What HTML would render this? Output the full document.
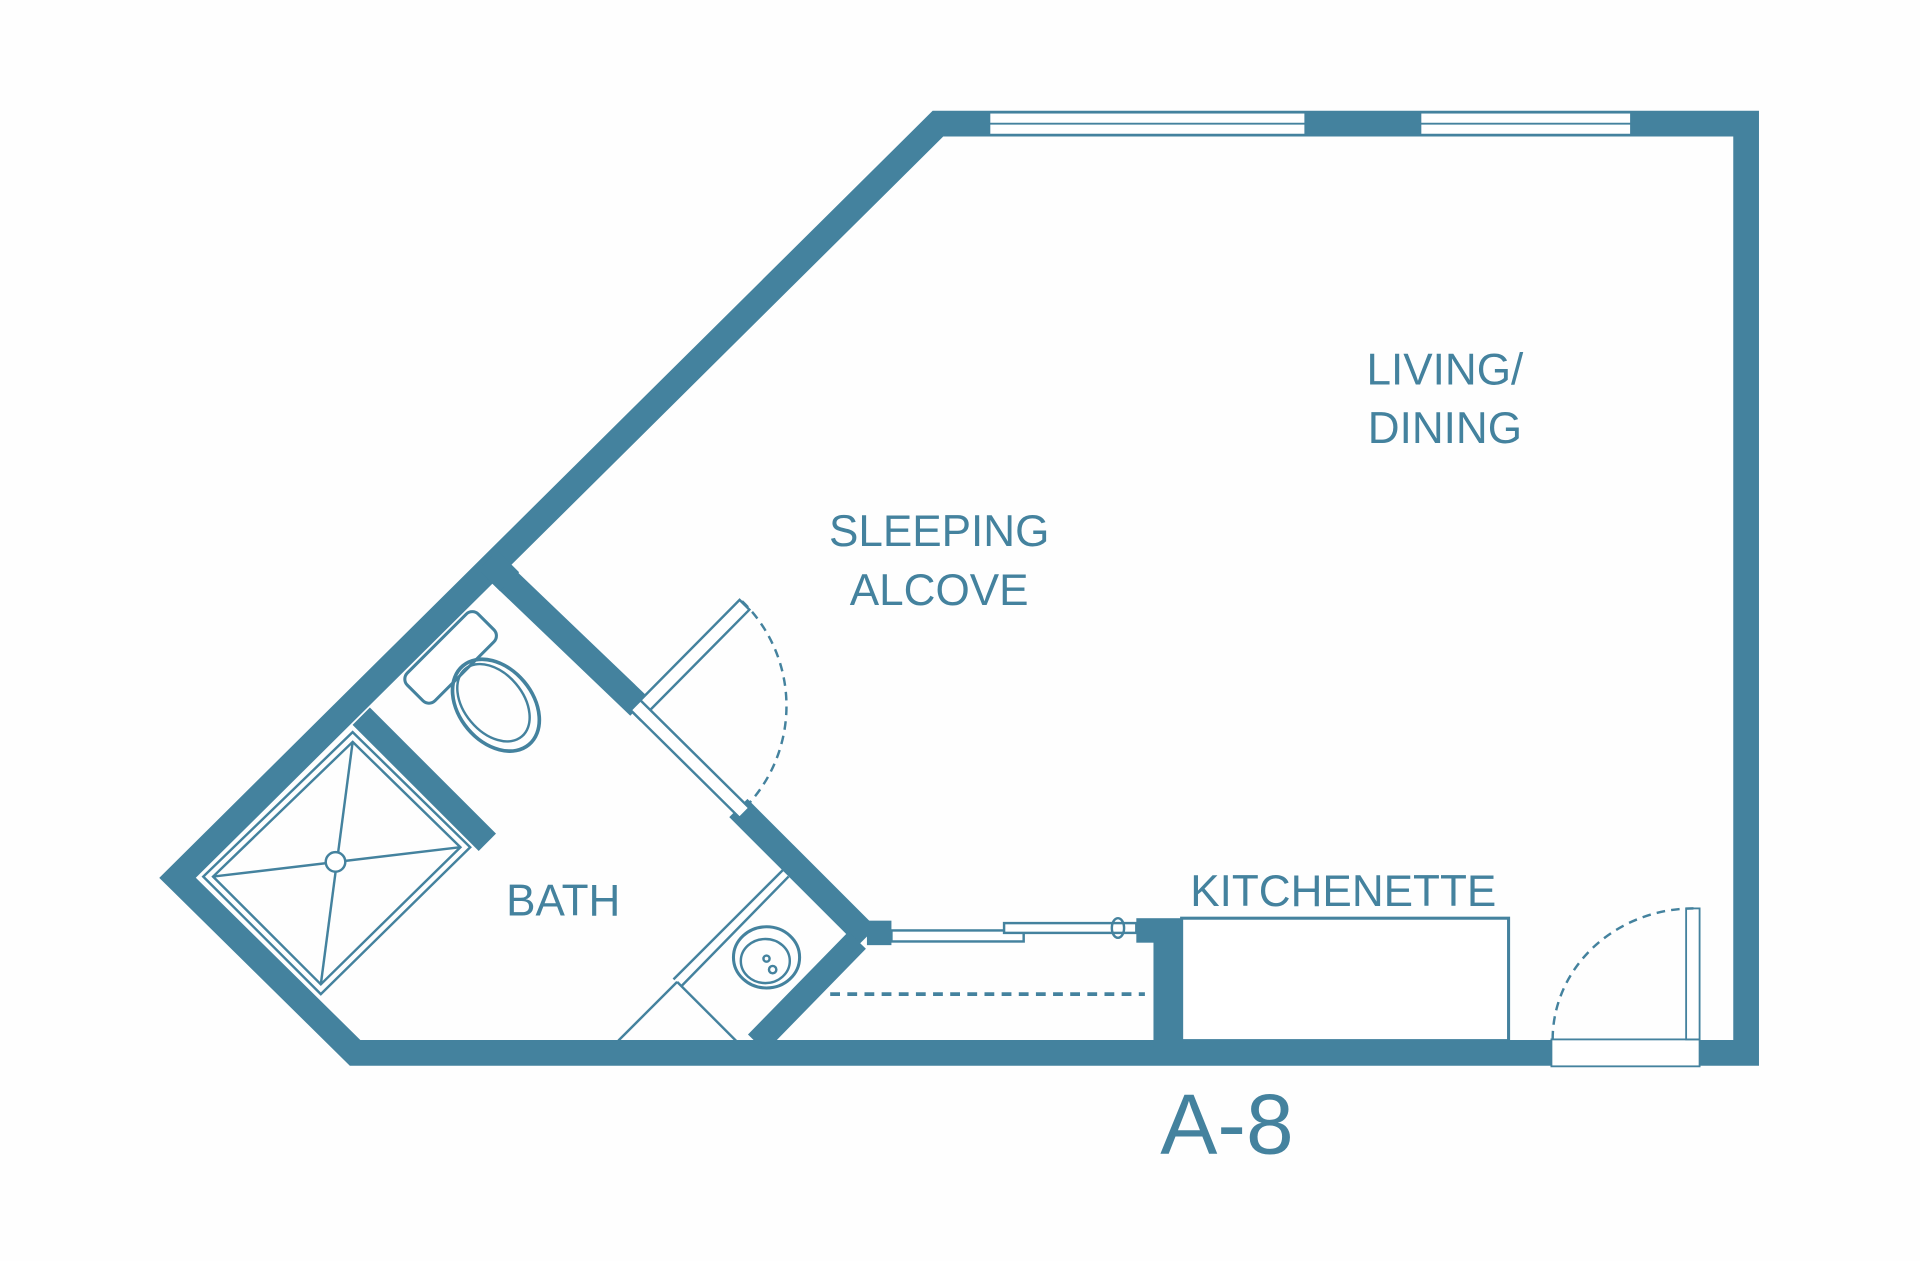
<!DOCTYPE html>
<html><head><style>html,body{margin:0;padding:0;background:#fff}svg{display:block}</style></head>
<body>
<svg width="1920" height="1261" viewBox="0 0 1568 1030" preserveAspectRatio="none" xmlns="http://www.w3.org/2000/svg">
<rect width="1568" height="1030" fill="#fefefe"/>
<g stroke="#44829e" fill="none">
<polygon points="766,101 1426,101 1426,860 290,860 145,717" stroke-width="21" stroke-linejoin="miter"/>
<line x1="405" y1="465" x2="522" y2="577" stroke-width="21"/>
<line x1="603" y1="660" x2="708" y2="765" stroke-width="21"/>
<line x1="295" y1="585" x2="398" y2="688" stroke-width="20"/>
<line x1="700" y1="768" x2="618" y2="852" stroke-width="20"/>
</g>
<g fill="#44829e">
<rect x="708" y="752" width="20" height="20"/>
<rect x="942" y="752" width="24" height="103"/>
<rect x="928" y="750" width="38" height="20"/>
<rect x="395" y="455" width="25" height="22" transform="rotate(45 407 466)"/>
</g>
<g fill="#fff" stroke="#44829e" stroke-width="1.5">
<rect x="808" y="92" width="258" height="18"/>
<line x1="808" y1="101" x2="1066" y2="101"/>
<rect x="1160" y="92" width="172" height="18"/>
<line x1="1160" y1="101" x2="1332" y2="101"/>
<rect x="1267" y="849" width="121" height="22"/>
<rect x="1377" y="742" width="11" height="107"/>
<rect x="965" y="750" width="267" height="100" stroke-width="2.5"/>
</g>
<g fill="none" stroke="#44829e" stroke-width="2">
<path d="M1268,849 A115,107 0 0 1 1383,742" stroke-dasharray="7,5"/>
<path d="M606,491 A119,119 0 0 1 604,664" stroke-dasharray="7,5"/>
<polygon points="515,580 604,490 612,498 523,588" fill="#fff"/>
<polygon points="515,580 523,572 612,660 604,668" fill="#fff"/>
<rect x="728" y="760" width="108" height="9" fill="#fff"/>
<rect x="820" y="754" width="108" height="8" fill="#fff"/>
<ellipse cx="913" cy="758" rx="5" ry="8"/>
<line x1="678" y1="812" x2="935" y2="812" stroke-width="3" stroke-dasharray="8,6"/>
<line x1="550" y1="800" x2="640" y2="710"/>
<line x1="556" y1="806" x2="644" y2="716"/>
<line x1="505" y1="850" x2="553" y2="802"/>
<line x1="553" y1="802" x2="603" y2="852"/>
<ellipse cx="626" cy="782" rx="27" ry="25" stroke-width="2.5"/>
<ellipse cx="625" cy="785" rx="20" ry="18"/>
<circle cx="631" cy="792" r="3"/><circle cx="626" cy="783" r="2.5"/>
<rect x="327" y="521" width="82" height="32" rx="7" transform="rotate(-45 368 537)" fill="#fff" stroke-width="2.5"/>
<ellipse cx="405" cy="576" rx="30" ry="42" transform="rotate(-40 405 576)" stroke-width="3"/>
<ellipse cx="403" cy="574" rx="24" ry="36" transform="rotate(-40 403 574)"/>
<polygon points="288,598 384,692 262,812 166,716"/>
<polygon points="288,606 376,692 262,804 174,716"/>
<line x1="288" y1="606" x2="262" y2="804"/>
<line x1="174" y1="716" x2="376" y2="692"/>
<ellipse cx="274" cy="704" rx="8" ry="8" fill="#fff"/>
</g>
<g fill="#44829e" font-family="'Liberation Sans',sans-serif" font-size="36" text-anchor="middle">
<text x="1180" y="314">LIVING/</text>
<text x="1180" y="362">DINING</text>
<text x="767" y="446">SLEEPING</text>
<text x="767" y="494">ALCOVE</text>
<text x="1097" y="740">KITCHENETTE</text>
<text x="460" y="748">BATH</text>
<text x="1002" y="942" font-size="70">A-8</text>
</g>
</svg>
</body></html>
